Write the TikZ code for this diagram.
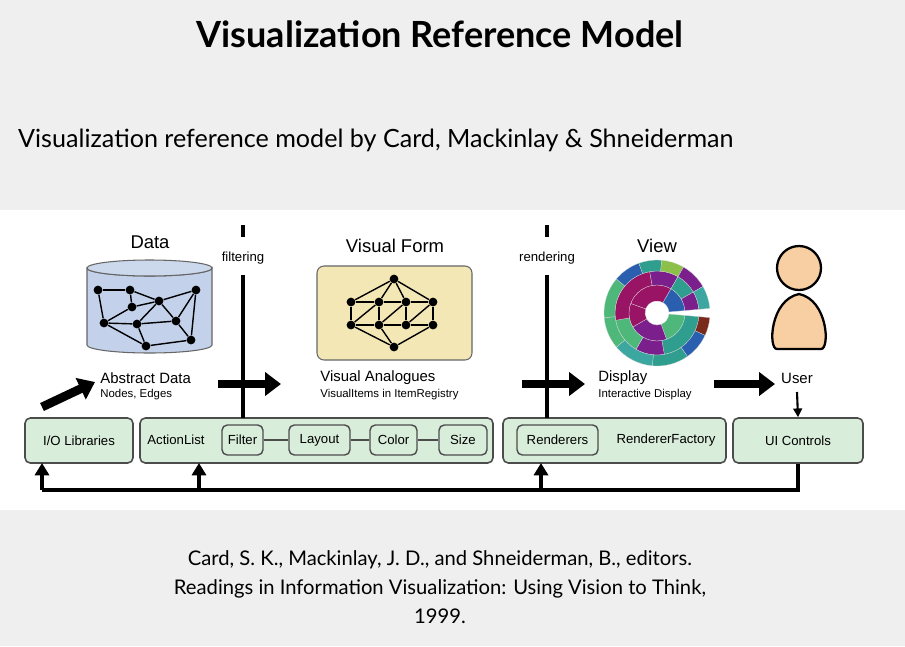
\documentclass[tikz,border=0pt]{standalone}
\usepackage{fontspec}
\setmainfont{Liberation Sans}
\newfontfamily\slidefont{Lato}
\usetikzlibrary{arrows.meta,shapes.geometric}
\definecolor{bgc}{HTML}{EFEFEF}
\definecolor{boxg}{HTML}{D9EDDB}
\definecolor{cylb}{HTML}{C3D2EA}
\definecolor{formy}{HTML}{F3E7B5}
\definecolor{skin}{HTML}{F8CFA2}
\definecolor{sbA}{HTML}{2F9E8F}
\definecolor{sbB}{HTML}{4DB87A}
\definecolor{sbC}{HTML}{7A1F8C}
\definecolor{sbD}{HTML}{9A1466}
\definecolor{sbE}{HTML}{2A5FB0}
\definecolor{sbF}{HTML}{3BA7A0}
\definecolor{sbG}{HTML}{8CC04A}
\definecolor{sbH}{HTML}{7A2A1A}
\begin{document}
\begin{tikzpicture}[x=0.02cm,y=-0.02cm,
  big/.style={line width=2.3pt},
  fatarrow/.style={line width=5pt,-{Triangle[length=9pt,width=13pt]}},
  bx/.style={draw=black!70,line width=0.9pt,rounded corners=3pt,fill=boxg},
  ibx/.style={draw=black!70,line width=0.8pt,rounded corners=3pt,fill=boxg,font=\fontsize{7.5}{9}\selectfont,inner sep=0pt},
  btxt/.style={font=\fontsize{7.5}{9}\selectfont},
  head/.style={font=\fontsize{10.5}{12}\selectfont},
  lbl/.style={font=\fontsize{8.5}{10}\selectfont,anchor=west,inner sep=0pt},
  sub/.style={font=\fontsize{6.5}{8}\selectfont,anchor=west,inner sep=0pt},
  gv/.style={circle,fill=black,inner sep=0pt,minimum size=5pt},
  ge/.style={line width=0.8pt}]
\useasboundingbox (0,0) rectangle (905,646);
\fill[bgc] (0,0) rectangle (905,646);
\fill[white] (0,210) rectangle (905,510);
% titles
\node[font=\slidefont\bfseries\fontsize{20.5}{24}\selectfont] (title) at (440,34) {Visualization Reference Model};
\node[font=\slidefont\fontsize{14.3}{16}\selectfont,anchor=west] (subt) at (12,140) {Visualization reference model by Card, Mackinlay \& Shneiderman};
\node[font=\slidefont\fontsize{11.5}{16.5}\selectfont,align=center] (cite) at (440,587) {Card, S. K., Mackinlay, J. D., and Shneiderman, B., editors.\\Readings in Information Visualization: Using Vision to Think,\\1999.};
% Data cylinder
\node[head] (data) at (150,242) {Data};
\fill[cylb,draw=black!60,line width=0.6pt] (87,268) -- (87,345) arc[start angle=180,end angle=360,x radius=62.5,y radius=-8] -- (212,268) arc[start angle=0,end angle=180,x radius=62.5,y radius=8] -- cycle;
\draw[black!60,line width=0.6pt,fill=cylb!85!white] (149.5,268) ellipse[x radius=62.5,y radius=8];
\node[gv] (d1) at (98,290) {}; \node[gv] (d2) at (130,290) {}; \node[gv] (d3) at (196,290) {};
\node[gv] (d4) at (159,301) {}; \node[gv] (d5) at (132,307) {}; \node[gv] (d6) at (104,323) {};
\node[gv] (d7) at (137,324) {}; \node[gv] (d8) at (176,321) {}; \node[gv] (d9) at (191,340) {};
\node[gv] (d10) at (146,346) {};
\foreach \a/\b in {d1/d2,d2/d4,d4/d3,d1/d6,d2/d5,d5/d6,d5/d4,d6/d7,d7/d8,d4/d7,d4/d8,d3/d8,d3/d9,d8/d9,d7/d10,d10/d9,d6/d10}
  \draw[ge] (\a) -- (\b);
\node[lbl] (ad) at (100,378) {Abstract Data};
\node[sub] (ne) at (100,395) {Nodes, Edges};
% Visual form
\node[head] (vf) at (395,246) {Visual Form};
\draw[fill=formy,draw=black!60,line width=0.6pt,rounded corners=4pt] (317,266) rectangle (472,360);
\node[gv] (t) at (394,279) {}; \node[gv] (b) at (394,347) {};
\node[gv] (a1) at (351,302) {}; \node[gv] (a2) at (379,302) {}; \node[gv] (a3) at (406,302) {}; \node[gv] (a4) at (433,302) {};
\node[gv] (c1) at (351,325) {}; \node[gv] (c2) at (379,325) {}; \node[gv] (c3) at (406,325) {}; \node[gv] (c4) at (433,325) {};
\foreach \a/\b in {t/a1,t/a3,t/a4,a1/a2,a2/a3,a3/a4,c1/c2,c2/c3,c3/c4,a1/c1,a4/c4,a2/c1,a3/c2,a4/c3,a2/c2,a3/c3,c1/b,c2/b,c4/b,t/a2}
  \draw[ge] (\a) -- (\b);
\node[lbl] (va) at (320,378) {Visual Analogues};
\node[sub] (vi) at (320,395) {VisualItems in ItemRegistry};
% View sunburst
\node[head] (view) at (657,246) {View};
\begin{scope}[shift={(657,313)}]
\foreach \s/\e/\r/\R/\c in {
  5/70/12/28/sbB, 70/150/12/28/sbC, 150/200/12/28/sbD, 200/300/12/28/sbD, 300/355/12/28/sbE,
  5/80/28/42/sbA, 80/120/28/42/sbC, 120/170/28/42/sbB, 170/260/28/42/sbD, 260/300/28/42/sbC, 300/330/28/42/sbA, 330/355/28/42/sbC,
  5/25/42/53/sbH, 25/55/42/53/sbE, 55/95/42/53/sbA, 95/140/42/53/sbF, 140/175/42/53/sbB, 175/220/42/53/sbB, 220/250/42/53/sbE, 250/275/42/53/sbA, 275/300/42/53/sbG, 300/330/42/53/sbC, 330/355/42/53/sbF}
  \fill[\c,draw=white!70!gray,line width=0.15pt] (\s:\r) arc[start angle=\s,end angle=\e,radius=\r] -- (\e:\R) arc[start angle=\e,end angle=\s,radius=\R] -- cycle;
\end{scope}
\node[lbl] (disp) at (598,378) {Display};
\node[sub] (idisp) at (598,395) {Interactive Display};
% User figure
\draw[fill=skin,line width=1.3pt] (777,349) .. controls (768,349) and (770,300) .. (799,294) .. controls (828,300) and (830,349) .. (821,349) -- cycle;
\draw[fill=skin,line width=1.3pt] (799,268) circle[radius=22];
\node[lbl,anchor=center] (user) at (797,378) {User};
% boxes
\node[bx,minimum width=108*0.02cm,minimum height=45*0.02cm,btxt] (io) at (79,440.5) {I/O Libraries};
\node[bx,minimum width=353*0.02cm,minimum height=45*0.02cm] (al) at (316.5,440.5) {};
\node[btxt] (alt) at (176,440) {ActionList};
\node[ibx,minimum width=41*0.02cm,minimum height=30*0.02cm] (f) at (242.5,440) {Filter};
\node[ibx,minimum width=61*0.02cm,minimum height=30*0.02cm] (l) at (319.5,440) {Layout};
\node[ibx,minimum width=47*0.02cm,minimum height=30*0.02cm] (co) at (393.5,440) {Color};
\node[ibx,minimum width=48*0.02cm,minimum height=30*0.02cm] (sz) at (463,440) {Size};
\draw[line width=0.8pt,black!70] (f) -- (l); \draw[line width=0.8pt,black!70] (l) -- (co); \draw[line width=0.8pt,black!70] (co) -- (sz);
\node[bx,minimum width=223*0.02cm,minimum height=45*0.02cm] (rb) at (614.5,440.5) {};
\node[ibx,minimum width=81*0.02cm,minimum height=30*0.02cm] (ren) at (557.5,440) {Renderers};
\node[btxt] (rf) at (666,440) {RendererFactory};
\node[bx,minimum width=130*0.02cm,minimum height=45*0.02cm,btxt] (ui) at (798,440.5) {UI Controls};
% filtering / rendering lines
\coordinate (ft1) at (243,225); \coordinate (ft2) at (243,237); \coordinate (ft3) at (243,275);
\draw[big] (ft1) -- (ft2); \draw[big] (ft3) -- (243,418);
\node[font=\fontsize{7.5}{9}\selectfont] (filt) at (243,258) {filtering};
\coordinate (rt1) at (547,225); \coordinate (rt2) at (547,237); \coordinate (rt3) at (547,275);
\draw[big] (rt1) -- (rt2); \draw[big] (rt3) -- (547,418);
\node[font=\fontsize{7.5}{9}\selectfont] (rend) at (547,258) {rendering};
% fat arrows
\coordinate (fa1) at (218,384); \coordinate (fa2) at (281,384);
\draw[fatarrow] (fa1) -- (fa2);
\coordinate (ra1) at (522,384); \coordinate (ra2) at (585,384);
\draw[fatarrow] (ra1) -- (ra2);
\coordinate (ua1) at (714,384); \coordinate (ua2) at (775,384);
\draw[fatarrow] (ua1) -- (ua2);
\coordinate (da1) at (42,407); \coordinate (da2) at (95,382);
\draw[fatarrow] (da1) -- (da2);
\draw[line width=1.2pt,-{Triangle[length=5pt,width=5pt]}] (797,392) -- (ui.north);
% feedback loop
\coordinate (fb0) at (798,490); \coordinate (fb1) at (42,490);
\draw[line width=2.2pt] (ui.south) -- (fb0) -- (fb1);
\draw[line width=2.2pt,-{Triangle[length=7pt,width=8pt]}] (fb1) -- (42,463);
\draw[line width=2.2pt,-{Triangle[length=7pt,width=8pt]}] (199,490) -- (199,463);
\draw[line width=2.2pt,-{Triangle[length=7pt,width=8pt]}] (541,490) -- (541,463);
\end{tikzpicture}
\end{document}
